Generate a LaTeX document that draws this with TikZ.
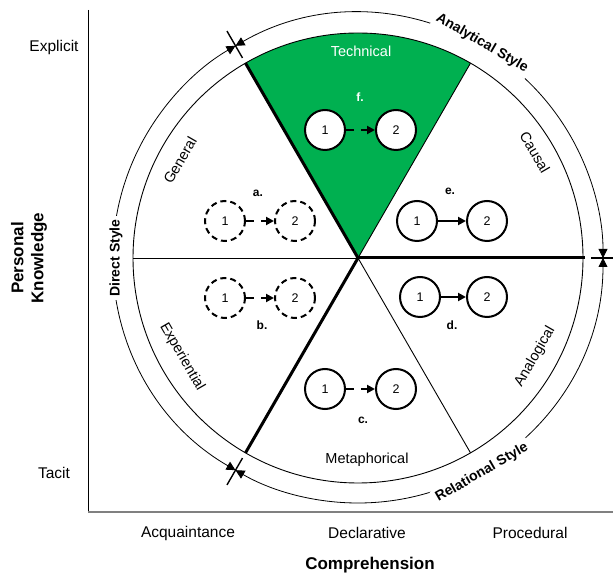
\documentclass[tikz,border=0pt]{standalone}
\usepackage{fontspec}
\setmainfont{Liberation Sans}
\usetikzlibrary{arrows.meta}
\definecolor{techgreen}{RGB}{0,176,80}
\definecolor{axisgray}{RGB}{128,128,128}
\begin{document}
\begin{tikzpicture}[x=1pt,y=1pt,
  axislbl/.style={font=\fontsize{15.5}{18}\selectfont},
  axistitle/.style={font=\fontsize{17}{20}\selectfont\bfseries},
  seclbl/.style={font=\fontsize{14.5}{17}\selectfont},
  stylelbl/.style={font=\fontsize{14}{16}\selectfont\bfseries,fill=white,inner sep=3pt},
  ring/.style={line width=0.8pt,{Triangle[length=9pt,width=9pt]}-{Triangle[length=9pt,width=9pt]}},
  bar/.style={line width=1.4pt},
  thickline/.style={line width=3pt},
  thinline/.style={line width=0.9pt},
  nd/.style={circle,draw,line width=2pt,minimum size=40pt,inner sep=0pt,fill=white,font=\fontsize{12.5}{14}\selectfont},
  ndd/.style={nd,dash pattern=on 6pt off 4pt},
  letter/.style={font=\fontsize{12}{14}\selectfont\bfseries},
  solidarr/.style={line width=2pt,-{Triangle[length=8pt,width=8pt]}},
  dasharr/.style={line width=2pt,dash pattern=on 8pt off 7pt,-{Triangle[length=8pt,width=8pt]}}
]
\useasboundingbox (0,0) rectangle (613,573);
\coordinate (C) at (358,315);

% green sector
\fill[techgreen] (C) -- ++(60:225) arc[start angle=60,end angle=120,radius=225] -- cycle;
% inner circle
\draw[thinline] (C) circle[radius=225];
% sector lines
\draw[thinline] (C) -- ++(60:225);
\draw[thinline] (C) -- ++(180:225);
\draw[thinline] (C) -- ++(300:225);
\draw[thickline] (C) -- ++(120:225);
\draw[thickline] (C) -- ++(240:225);
\draw[thickline] (C) -- ++(0:227);

% outer ring arcs
\draw[ring] (C) ++(120:245) arc[start angle=120,end angle=0,radius=245];
\draw[ring] (C) ++(0:245) arc[start angle=0,end angle=-120,radius=245];
\draw[ring] (C) ++(240:245) arc[start angle=240,end angle=120,radius=245];
% bars
\draw[bar] (C) ++(120:231) -- ++(120:31);
\draw[bar] (C) ++(240:231) -- ++(240:31);
\draw[bar] (C) ++(0:233) -- ++(0:30);
% style labels
\path (C) ++(60:248) node[stylelbl,rotate=-30] (anl) {Analytical Style};
\path (C) ++(-60:248) node[stylelbl,rotate=30] (rel) {Relational Style};
\path (C) ++(180:242) node[stylelbl,rotate=90] (dir) {Direct Style};

% sector labels
\node[seclbl,text=white] (tech) at (361,522) {Technical};
\node[seclbl,rotate=-60] (caus) at (535,421) {Causal};
\node[seclbl,rotate=60] (gen) at (180,413) {General};
\node[seclbl,rotate=-60] (exp) at (182,216) {Experiential};
\node[seclbl] (met) at (367,113) {Metaphorical};
\node[seclbl,rotate=60] (ana) at (535,216) {Analogical};

% a
\node[ndd] (a1) at (225,352) {1};
\node[ndd] (a2) at (295,352) {2};
\node[letter] (al) at (258,380) {a.};
\draw[dasharr] (a1) -- (a2);
% b
\node[ndd] (b1) at (225,275) {1};
\node[ndd] (b2) at (295,275) {2};
\node[letter] (bl) at (262,248) {b.};
\draw[dasharr] (b1) -- (b2);
% c
\node[nd] (c1) at (325,184) {1};
\node[nd] (c2) at (396,184) {2};
\node[letter] (cl) at (363,153) {c.};
\draw[dasharr] (c1) -- (c2);
% d
\node[nd] (d1) at (420,276) {1};
\node[nd] (d2) at (487,276) {2};
\node[letter] (dl) at (452,248) {d.};
\draw[solidarr] (d1) -- (d2);
% e
\node[nd] (e1) at (417,352) {1};
\node[nd] (e2) at (487,352) {2};
\node[letter] (el) at (450,382) {e.};
\draw[solidarr] (e1) -- (e2);
% f
\node[nd] (f1) at (325,443) {1};
\node[nd] (f2) at (396,443) {2};
\node[letter,text=white] (fl) at (360,476) {f.};
\draw[dasharr] (f1) -- (f2);

% axes
\coordinate (ytop) at (88,563);
\coordinate (orig) at (88,61);
\coordinate (xend) at (613,61);
\draw[line width=0.9pt] (ytop) -- (orig);
\draw[line width=1.3pt,axisgray] (orig) -- (xend);

\node[axislbl] (expl) at (54,526) {Explicit};
\node[axislbl] (tac) at (54,100) {Tacit};
\node[axislbl] (acq) at (188,40) {Acquaintance};
\node[axislbl] (decl) at (367,40) {Declarative};
\node[axislbl] (proc) at (530,40) {Procedural};
\node[axistitle] (comp) at (370,8) {Comprehension};
\node[axistitle,rotate=90,align=center] (pk) at (29,315) {Personal\\Knowledge};
\end{tikzpicture}
\end{document}
